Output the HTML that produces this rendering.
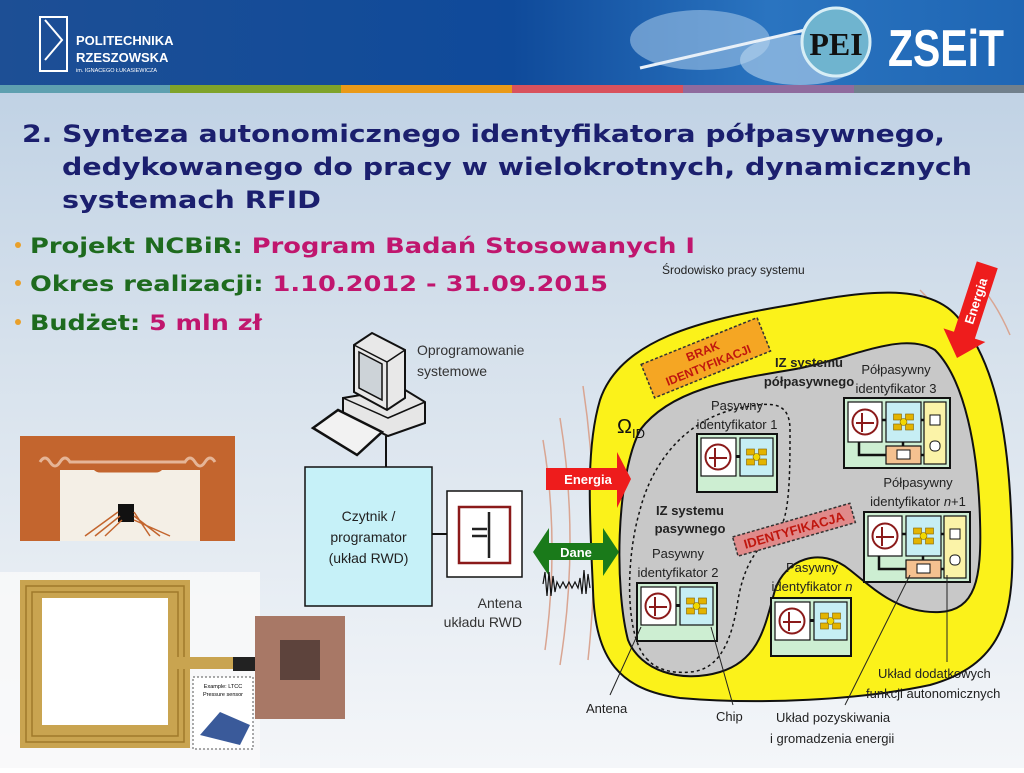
<!DOCTYPE html>
<html><head><meta charset="utf-8"><style>
html,body{margin:0;padding:0;}
body{width:1024px;height:768px;overflow:hidden;font-family:"Liberation Sans",sans-serif;}
</style></head><body>
<svg width="1024" height="768" viewBox="0 0 1024 768" xmlns="http://www.w3.org/2000/svg" font-family="Liberation Sans, sans-serif">
<defs>
<linearGradient id="bg" x1="0" y1="0" x2="0" y2="1">
<stop offset="0" stop-color="#b9cde2"/><stop offset="0.45" stop-color="#d6e1ec"/><stop offset="1" stop-color="#f4f6f9"/>
</linearGradient>
<linearGradient id="hd" x1="0" y1="0" x2="1" y2="0">
<stop offset="0" stop-color="#1d4f95"/><stop offset="0.5" stop-color="#0f4a9a"/><stop offset="0.75" stop-color="#2a74c0"/><stop offset="1" stop-color="#1f66b4"/>
</linearGradient>
<g id="ant">
<circle cx="0" cy="0" r="12.5" fill="#fff" stroke="#8b1a1a" stroke-width="2"/>
<path d="M-3,-9 V10 M-3,1 H9 M-9,1 H-4" stroke="#8b1a1a" stroke-width="2" fill="none"/>
</g>
<g id="chip">
<rect x="-10" y="-8" width="8" height="6" fill="#e3b400" stroke="#806000" stroke-width="0.6"/>
<rect x="2" y="-8" width="8" height="6" fill="#e3b400" stroke="#806000" stroke-width="0.6"/>
<rect x="-10" y="2" width="8" height="6" fill="#e3b400" stroke="#806000" stroke-width="0.6"/>
<rect x="2" y="2" width="8" height="6" fill="#e3b400" stroke="#806000" stroke-width="0.6"/>
<circle cx="0" cy="0" r="3.5" fill="#f2d800" stroke="#806000" stroke-width="0.6"/>
</g>
<g id="pas">
<rect x="0" y="0" width="80" height="58" fill="#cdeed2" stroke="#111" stroke-width="2"/>
<rect x="4" y="4" width="35" height="38" fill="#fff" stroke="#111" stroke-width="1.2"/>
<rect x="43" y="4" width="33" height="38" fill="#c6eef4" stroke="#111" stroke-width="1.2"/>
<rect x="39" y="21" width="4" height="3" fill="#111"/>
<use href="#ant" x="21" y="23"/>
<use href="#chip" x="59.5" y="23"/>
</g>
<g id="semi">
<rect x="0" y="0" width="106" height="70" fill="#cdeed2" stroke="#111" stroke-width="2"/>
<rect x="4" y="4" width="34" height="40" fill="#fff" stroke="#111" stroke-width="1.2"/>
<rect x="42" y="4" width="35" height="40" fill="#c6eef4" stroke="#111" stroke-width="1.2"/>
<rect x="80" y="4" width="22" height="62" fill="#fbf3a8" stroke="#111" stroke-width="1.2"/>
<rect x="42" y="48" width="35" height="18" fill="#f4c190" stroke="#111" stroke-width="1.2"/>
<path d="M15,44 V57 H42 M38,22 H42 M77,22 H80 M77,57 H80 M59,44 V48" stroke="#111" stroke-width="2.5" fill="none"/>
<use href="#ant" x="21" y="24"/>
<use href="#chip" x="59.5" y="24"/>
<rect x="86" y="17" width="10" height="10" fill="#fff" stroke="#111" stroke-width="1"/>
<rect x="86" y="43" width="10" height="10" rx="4" fill="#fff" stroke="#111" stroke-width="1"/>
<rect x="53" y="52" width="13" height="9" fill="#fff" stroke="#111" stroke-width="1"/>
</g>
</defs>
<rect width="1024" height="768" fill="url(#bg)"/>
<!-- header -->
<rect x="0" y="0" width="1024" height="85" fill="url(#hd)"/>
<ellipse cx="700" cy="40" rx="70" ry="30" fill="#9ec3e6" opacity="0.6"/>
<ellipse cx="800" cy="60" rx="60" ry="25" fill="#b9d6ef" opacity="0.6"/>
<path d="M640,68 L805,30" stroke="#e8f0f8" stroke-width="3"/>
<rect x="40" y="17" width="27" height="54" fill="none" stroke="#fff" stroke-width="2"/>
<path d="M45,20 L62,40 L45,60" stroke="#fff" stroke-width="2" fill="none"/>
<text x="76" y="45" fill="#fff" font-size="13" font-weight="bold">POLITECHNIKA</text>
<text x="76" y="62" fill="#fff" font-size="13" font-weight="bold">RZESZOWSKA</text>
<text x="76" y="72" fill="#fff" font-size="5.5">im. IGNACEGO ŁUKASIEWICZA</text>
<circle cx="836" cy="42" r="34" fill="#6fb4cf" stroke="#d8eef6" stroke-width="3"/>
<text x="836" y="55" fill="#111" font-size="32" font-weight="bold" text-anchor="middle" font-family="Liberation Serif, serif">PEI</text>
<text x="946" y="66" fill="#fff" font-size="52" font-weight="bold" text-anchor="middle" font-family="Liberation Sans, sans-serif" textLength="116" lengthAdjust="spacingAndGlyphs">ZSEiT</text>
<rect x="0" y="85" width="170" height="8" fill="#5ea0b0"/>
<rect x="170" y="85" width="171" height="8" fill="#7fa32a"/>
<rect x="341" y="85" width="171" height="8" fill="#ea9a18"/>
<rect x="512" y="85" width="171" height="8" fill="#d8525d"/>
<rect x="683" y="85" width="171" height="8" fill="#8f6b9e"/>
<rect x="854" y="85" width="170" height="8" fill="#71808c"/>
<!-- title -->
<g font-family="DejaVu Sans, sans-serif" font-weight="bold" font-size="24" fill="#1b1f6e">
<text x="22" y="142" textLength="923" lengthAdjust="spacingAndGlyphs">2. Synteza autonomicznego identyfikatora półpasywnego,</text>
<text x="62" y="175" textLength="910" lengthAdjust="spacingAndGlyphs">dedykowanego do pracy w wielokrotnych, dynamicznych</text>
<text x="62" y="208" textLength="259" lengthAdjust="spacingAndGlyphs">systemach RFID</text>
</g>
<g font-family="DejaVu Sans, sans-serif" font-weight="bold" font-size="21">
<circle cx="18" cy="245" r="3" fill="#e9a02a"/><circle cx="18" cy="283" r="3" fill="#e9a02a"/><circle cx="18" cy="322" r="3" fill="#e9a02a"/>
<text x="30" y="253" textLength="665" lengthAdjust="spacingAndGlyphs"><tspan fill="#1e6b1e">Projekt NCBiR: </tspan><tspan fill="#c0166e">Program Badań Stosowanych I</tspan></text>
<text x="30" y="291" textLength="578" lengthAdjust="spacingAndGlyphs"><tspan fill="#1e6b1e">Okres realizacji: </tspan><tspan fill="#c0166e">1.10.2012 - 31.09.2015</tspan></text>
<text x="30" y="330" textLength="232" lengthAdjust="spacingAndGlyphs"><tspan fill="#1e6b1e">Budżet: </tspan><tspan fill="#c0166e">5 mln zł</tspan></text>
</g>
<!-- photos -->
<rect x="20" y="436" width="215" height="105" fill="#c3652e"/>
<rect x="60" y="470" width="140" height="71" fill="#f4efe6"/>
<rect x="93" y="457" width="70" height="14" rx="7" fill="none" stroke="#c3652e" stroke-width="3"/>
<path d="M40,462 q5,-8 10,0 q5,8 10,0 q5,-8 10,0 L185,462 q5,-8 10,0 q5,8 10,0 q5,-8 10,0" stroke="#e5b597" stroke-width="3" fill="none"/>
<rect x="118" y="504" width="16" height="18" fill="#111"/>
<path d="M85,536 L118,512 M95,536 L120,516 M105,536 L122,520 M150,536 L134,512 M160,536 L134,516 M170,536 L134,520" stroke="#c3652e" stroke-width="1.5"/>
<rect x="0" y="572" width="260" height="196" fill="#fafafa" opacity="0.8"/>
<rect x="20" y="580" width="170" height="168" fill="#c9a450"/>
<rect x="26" y="586" width="158" height="156" fill="none" stroke="#a07a2a" stroke-width="1.5"/>
<rect x="32" y="592" width="146" height="144" fill="none" stroke="#a07a2a" stroke-width="1.5"/>
<rect x="42" y="598" width="126" height="127" fill="#fff"/>
<rect x="168" y="657" width="75" height="12" fill="#c9a450"/>
<rect x="233" y="657" width="24" height="14" fill="#222"/>
<rect x="255" y="616" width="90" height="103" fill="#a87866"/>
<rect x="280" y="640" width="40" height="40" fill="#2b2020" opacity="0.6"/>
<rect x="193" y="677" width="60" height="72" fill="#fff" stroke="#555" stroke-dasharray="2,2"/>
<text x="223" y="688" font-size="5.5" text-anchor="middle">Example: LTCC</text>
<text x="223" y="696" font-size="5.5" text-anchor="middle">Pressure sensor</text>
<path d="M200,735 L220,712 L250,725 L240,745 Z" fill="#3a5a9a"/>
<!-- computer -->
<path d="M343,398 L402,388 L425,402 L425,423 L388,436 L343,414 Z" fill="#e6e6e6" stroke="#111" stroke-width="2"/>
<path d="M343,398 L388,418 L425,402" fill="none" stroke="#111" stroke-width="1.5"/>
<path d="M354,345 L372,333 L405,350 L405,398 L387,410 L354,392 Z" fill="#e8e8e8" stroke="#111" stroke-width="2"/>
<path d="M354,345 L387,362 L405,350 M387,362 V410" fill="none" stroke="#111" stroke-width="1.5"/>
<path d="M359,352 L382,364 L382,400 L359,388 Z" fill="#cdd3d8" stroke="#111" stroke-width="1.5"/>
<path d="M313,428 L338,410 L382,432 L357,455 Z" fill="#f2f2f2" stroke="#111" stroke-width="2.5"/>
<line x1="386" y1="436" x2="386" y2="467" stroke="#111" stroke-width="2"/>
<text x="417" y="355" font-size="14" fill="#333">Oprogramowanie</text>
<text x="417" y="376" font-size="14" fill="#333">systemowe</text>
<rect x="305" y="467" width="127" height="139" fill="#c6f1f8" stroke="#111" stroke-width="1.5"/>
<text x="368.5" y="521" font-size="14" text-anchor="middle" fill="#222">Czytnik /</text>
<text x="368.5" y="542" font-size="14" text-anchor="middle" fill="#222">programator</text>
<text x="368.5" y="563" font-size="14" text-anchor="middle" fill="#222">(układ RWD)</text>
<line x1="432" y1="534" x2="447" y2="534" stroke="#111" stroke-width="2"/>
<rect x="447" y="491" width="75" height="86" fill="#fff" stroke="#111" stroke-width="1.5"/>
<rect x="459" y="507" width="51" height="56" fill="none" stroke="#8b1a1a" stroke-width="2.5"/>
<path d="M489,512 V558 M472,529 H487 M472,536 H487" stroke="#222" stroke-width="2.5"/>
<text x="522" y="608" font-size="14" text-anchor="end" fill="#333">Antena</text>
<text x="522" y="627" font-size="14" text-anchor="end" fill="#333">układu RWD</text>
<!-- field lines -->
<g stroke="#d9a592" stroke-width="1.5" fill="none">
<path d="M543,440 Q560,540 545,650"/>
<path d="M560,418 Q580,540 560,665"/>
<path d="M583,386 Q603,520 588,660"/>
<path d="M905,300 Q935,315 955,345"/>
<path d="M920,290 Q945,315 960,350"/>
<path d="M975,280 Q995,300 1010,335"/>
</g>
<text x="662" y="274" font-size="12" fill="#222">Środowisko pracy systemu</text>
<!-- yellow blob -->
<path d="M600,400 C620,340 700,320 790,305 C860,292 930,280 960,320 C1000,370 1010,450 1012,540 C1015,620 1000,665 930,685 C860,700 760,705 680,698 C620,690 595,660 593,590 C590,520 585,450 600,400 Z" fill="#fbf21a" stroke="#111" stroke-width="2"/>
<!-- gray blob -->
<path d="M640,430 C670,390 730,380 790,370 C850,360 900,330 935,350 C965,380 978,450 980,520 C982,580 975,610 940,612 C900,614 875,590 850,570 C820,545 785,560 775,590 C765,625 760,660 720,672 C680,684 640,670 628,640 C615,590 615,480 640,430 Z" fill="#c8c8c8" stroke="#111" stroke-width="2"/>
<!-- dashed passive region -->
<path d="M648,660 C625,640 625,560 640,510 C650,470 680,420 740,408 C770,402 790,400 790,430 C790,470 790,520 778,530 C760,545 745,560 738,600 C732,640 720,670 690,672 C670,674 655,668 648,660 Z" fill="none" stroke="#111" stroke-width="1.5" stroke-dasharray="3,3"/>
<text x="617" y="433" font-size="20" fill="#111">Ω<tspan font-size="13" dy="5">ID</tspan></text>
<!-- labels -->
<g transform="rotate(-22 705 357)">
<rect x="643" y="340" width="125" height="36" fill="#f5a623" stroke="#333" stroke-width="1.5" stroke-dasharray="3,2"/>
<text x="705" y="355" font-size="12" font-weight="bold" fill="#c0160e" text-anchor="middle">BRAK</text>
<text x="705" y="370" font-size="12" font-weight="bold" fill="#c0160e" text-anchor="middle">IDENTYFIKACJI</text>
</g>
<g transform="rotate(-16 793 530)">
<rect x="733" y="520" width="122" height="20" fill="#e08a8a" stroke="#333" stroke-width="1.5" stroke-dasharray="3,2"/>
<text x="794" y="535" font-size="13" font-weight="bold" fill="#c0160e" text-anchor="middle">IDENTYFIKACJA</text>
</g>
<text x="809" y="367" font-size="13" font-weight="bold" fill="#222" text-anchor="middle">IZ systemu</text>
<text x="809" y="386" font-size="13" font-weight="bold" fill="#222" text-anchor="middle">półpasywnego</text>
<text x="690" y="515" font-size="13" font-weight="bold" fill="#222" text-anchor="middle">IZ systemu</text>
<text x="690" y="533" font-size="13" font-weight="bold" fill="#222" text-anchor="middle">pasywnego</text>
<g font-size="13" fill="#222" text-anchor="middle">
<text x="737" y="410">Pasywny</text><text x="737" y="429">identyfikator 1</text>
<text x="678" y="558">Pasywny</text><text x="678" y="577">identyfikator 2</text>
<text x="812" y="572">Pasywny</text><text x="812" y="591">identyfikator <tspan font-style="italic">n</tspan></text>
<text x="896" y="374">Półpasywny</text><text x="896" y="393">identyfikator 3</text>
<text x="918" y="487">Półpasywny</text><text x="918" y="506">identyfikator <tspan font-style="italic">n</tspan>+1</text>
</g>
<use href="#pas" x="697" y="434"/>
<use href="#pas" x="637" y="583"/>
<use href="#pas" x="771" y="598"/>
<use href="#semi" x="844" y="398"/>
<use href="#semi" x="864" y="512"/>
<!-- callouts -->
<g stroke="#222" stroke-width="1" fill="none">
<path d="M641,627 L610,695"/>
<path d="M711,627 L733,705"/>
<path d="M910,575 L845,705"/>
<path d="M947,575 L947,662"/>
</g>
<g font-size="13" fill="#222">
<text x="586" y="713">Antena</text>
<text x="716" y="721">Chip</text>
<text x="776" y="722">Układ pozyskiwania</text>
<text x="770" y="743">i gromadzenia energii</text>
<text x="878" y="678">Układ dodatkowych</text>
<text x="866" y="698">funkcji autonomicznych</text>
</g>
<!-- arrows -->
<path d="M546,468 H617 V452 L631,479 L617,508 V490 H546 Z" fill="#ee1c1c"/>
<text x="588" y="484" font-size="13" font-weight="bold" fill="#fff" text-anchor="middle">Energia</text>
<path d="M533,552 L549,528 V543 H603 V528 L619,552 L603,576 V560 H549 V576 Z" fill="#1a7a1a"/>
<text x="576" y="557" font-size="13" font-weight="bold" fill="#fff" text-anchor="middle">Dane</text>
<path d="M543,584 l2,-12 l2,24 l2,-24 l2,24 l2,-20 l2,16 l2,-10 l3,6 l3,-6 l3,6 l3,-6 l3,6 l3,-6 l3,6 l2,-10 l2,16 l2,-24 l2,24 l2,-20 l2,14" stroke="#111" stroke-width="1.2" fill="none"/>
<g transform="translate(957,358) rotate(-72)">
<path d="M0,0 L24,-22 V-11 H98 V11 H24 V22 Z" fill="#ee1c1c"/>
<text x="60" y="5" font-size="13" font-weight="bold" fill="#fff" text-anchor="middle">Energia</text>
</g>
</svg>
</body></html>
